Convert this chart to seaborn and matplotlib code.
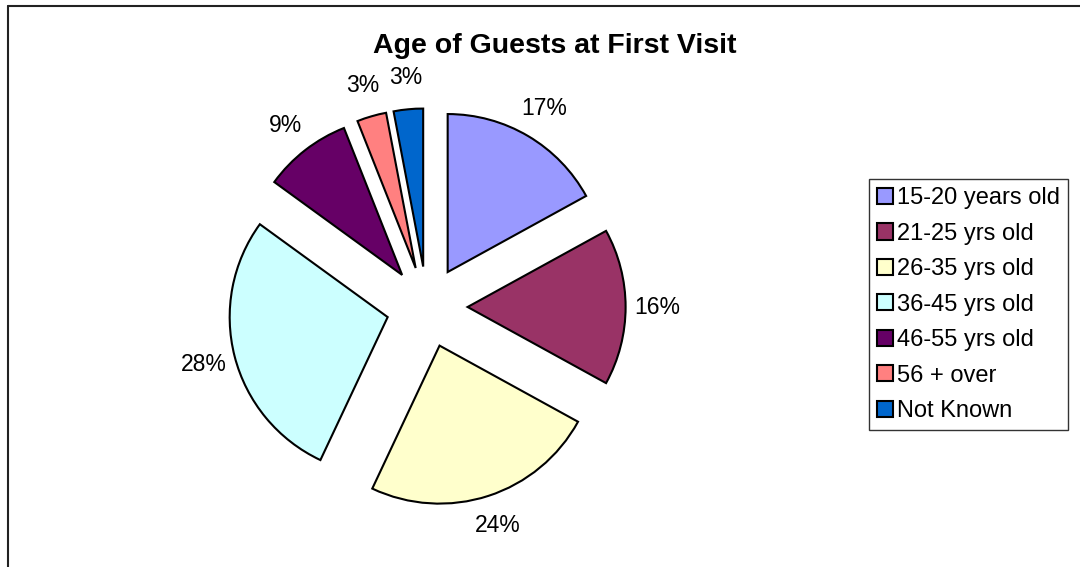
import matplotlib
matplotlib.use("Agg")
import matplotlib.pyplot as plt
import seaborn as sns

# data
grupos = ["15-20 years old", "21-25 yrs old", "26-35 yrs old", "36-45 yrs old",
          "46-55 yrs old", "56 + over", "Not Known"]
porcentajes = [17, 16, 24, 28, 9, 3, 3]
colores = ["#9999FF", "#993366", "#FFFFCC", "#CCFFFF", "#660066", "#FF8080", "#0066CC"]

sns.set_style("white")
plt.rcParams["font.family"] = ["Liberation Sans", "DejaVu Sans"]
plt.rcParams["text.color"] = "black"

fig = plt.figure(figsize=(10.8, 5.67), dpi=100)
ax = fig.add_axes([0, 0, 1, 1])

wedges, textos, pct = ax.pie(
    porcentajes,
    colors=colores,
    startangle=90,
    counterclock=False,
    explode=[40.6] * len(porcentajes),
    radius=158,
    center=(427, 260),
    autopct="%1.0f%%",
    pctdistance=1.2,
    wedgeprops={"edgecolor": "black", "linewidth": 1.5},
    textprops={"fontsize": 16.5, "color": "black"},
)
ax.set_xlim(0, 1080)
ax.set_ylim(0, 567)
ax.set_aspect("auto")
ax.axis("off")

fig.text(555 / 1080, 1 - 46 / 567, "Age of Guests at First Visit",
         ha="center", va="center", fontsize=20.5, fontweight="bold", color="black")

leg = ax.legend(
    wedges, grupos,
    loc="upper left",
    bbox_to_anchor=(869 / 1080, 1 - 179 / 567),
    bbox_transform=fig.transFigure,
    borderaxespad=0,
    fontsize=17,
    labelcolor="black",
    frameon=True,
    fancybox=False,
    handlelength=0.68,
    handleheight=0.68,
    handletextpad=0.15,
    labelspacing=0.57,
    borderpad=0.35,
)
leg.get_frame().set_edgecolor("black")
leg.get_frame().set_linewidth(1.0)
for h in leg.legend_handles:
    h.set_linewidth(1.5)

# marco del grafico (solo se ve arriba y a la izquierda)
fig.add_artist(plt.Line2D([8 / 1080, 1], [1 - 6 / 567, 1 - 6 / 567],
                          transform=fig.transFigure, color="#222222", lw=1.5))
fig.add_artist(plt.Line2D([8 / 1080, 8 / 1080], [0, 1 - 6 / 567],
                          transform=fig.transFigure, color="#222222", lw=1.5))

plt.savefig("out.png", dpi=100)
plt.close()
